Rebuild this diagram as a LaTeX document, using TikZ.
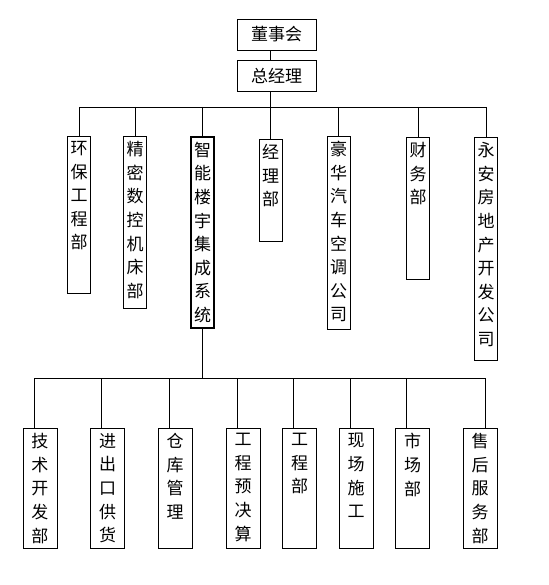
\documentclass[tikz,border=0pt]{standalone}
\usepackage{fontspec}
\newfontfamily\cjk{Noto Sans CJK SC}
\usetikzlibrary{positioning}
% vertical text: [pitch]{inner height}{chars}
\newcommand{\shu}[3][23.6pt]{\parbox[t][#2][t]{20pt}{\centering\fontsize{17}{#1}\selectfont #3}}

\begin{document}
\begin{tikzpicture}[x=1pt,y=-1pt,thick,font=\cjk,
  head/.style={draw,minimum width=79pt,minimum height=31pt,inner sep=0pt,font=\cjk\fontsize{17}{17}\selectfont},
  dept/.style={draw,anchor=north,inner xsep=0pt,inner ysep=5pt,minimum width=23pt},
  sub/.style={dept,minimum width=34pt}]
\useasboundingbox (0,0) rectangle (548,585);

% board and general manager
\node[head] (board) at (276.5,34.5) {董事会};
\node[head] (gm) at (276.5,75.5) {总经理};
\coordinate (bus) at (270,107);
\draw (board.south -| bus) -- (gm.north -| bus);
\draw (gm.south -| bus) -- (bus);

% departments
\node[dept] (u1) at (79,136) {\shu{147pt}{环\\保\\工\\程\\部}};
\node[dept] (u2) at (135,136) {\shu{162pt}{精\\密\\数\\控\\机\\床\\部}};
\node[dept,line width=2pt] (u3) at (202.5,136) {\shu{181pt}{智\\能\\楼\\宇\\集\\成\\系\\统}};
\node[dept] (u4) at (270.5,139) {\shu{92pt}{经\\理\\部}};
\node[dept] (u5) at (338.5,136) {\shu{183pt}{豪\\华\\汽\\车\\空\\调\\公\\司}};
\node[dept] (u6) at (418,137) {\shu{132pt}{财\\务\\部}};
\node[dept] (u7) at (486,137) {\shu{213pt}{永\\安\\房\\地\\产\\开\\发\\公\\司}};

\draw (u1.north |- bus) -- (u7.north |- bus);
\draw (u1.north |- bus) -- (u1.north);
\draw (u2.north |- bus) -- (u2.north);
\draw (u3.north |- bus) -- (u3.north);
\draw (u4.north |- bus) -- (u4.north);
\draw (u5.north |- bus) -- (u5.north);
\draw (u6.north |- bus) -- (u6.north);
\draw (u7.north |- bus) -- (u7.north);

% sections of the building system
\coordinate (lbus) at (203,378);
\draw (u3.south) -- (u3.south |- lbus);

\node[sub] (l1) at (40,428) {\shu{110pt}{技\\术\\开\\发\\部}};
\node[sub] (l2) at (107.5,428) {\shu{110pt}{进\\出\\口\\供\\货}};
\node[sub] (l3) at (175,428) {\shu{110pt}{仓\\库\\管\\理}};
\node[sub] (l4) at (243,428) {\shu{110pt}{工\\程\\预\\决\\算}};
\node[sub] (l5) at (299.5,428) {\shu{110pt}{工\\程\\部}};
\node[sub] (l6) at (356,428) {\shu{110pt}{现\\场\\施\\工}};
\node[sub] (l7) at (412.5,428) {\shu{110pt}{市\\场\\部}};
\node[sub] (l8) at (480,428) {\shu{110pt}{售\\后\\服\\务\\部}};

\draw ([xshift=-6pt]l1.north |- lbus) -- ([xshift=5pt]l8.north |- lbus);
\draw ([xshift=-6pt]l1.north |- lbus) -- ([xshift=-6pt]l1.north);
\draw ([xshift=-6pt]l2.north |- lbus) -- ([xshift=-6pt]l2.north);
\draw ([xshift=-6pt]l3.north |- lbus) -- ([xshift=-6pt]l3.north);
\draw ([xshift=-6pt]l4.north |- lbus) -- ([xshift=-6pt]l4.north);
\draw ([xshift=-6pt]l5.north |- lbus) -- ([xshift=-6pt]l5.north);
\draw ([xshift=-6pt]l6.north |- lbus) -- ([xshift=-6pt]l6.north);
\draw ([xshift=-6pt]l7.north |- lbus) -- ([xshift=-6pt]l7.north);
\draw ([xshift=5pt]l8.north |- lbus) -- ([xshift=5pt]l8.north);
\end{tikzpicture}
\end{document}
